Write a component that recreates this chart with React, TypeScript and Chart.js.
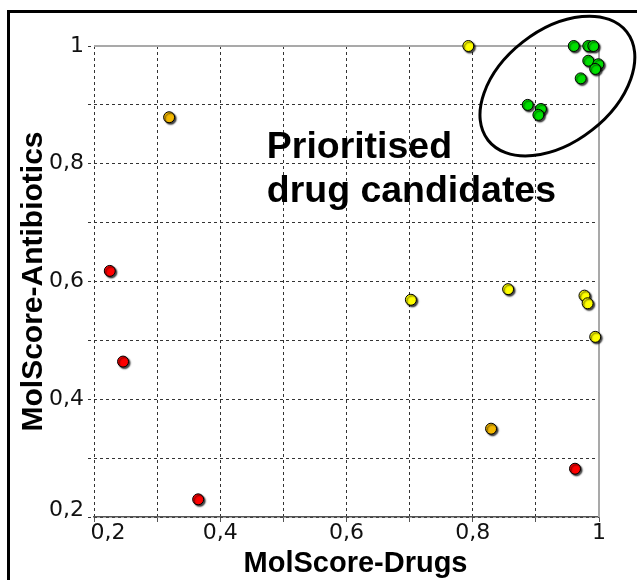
import React, { useEffect, useRef } from 'react';
import { Chart, registerables } from 'chart.js';

Chart.register(...registerables);

// ---- data ----
const redX = [0.225, 0.246, 0.365, 0.962];
const redY = [0.618, 0.464, 0.23, 0.282];

const orangeX = [0.319, 0.829];
const orangeY = [0.879, 0.35];

const yellowX = [0.793, 0.702, 0.856, 0.977, 0.982, 0.994];
const yellowY = [1.0, 0.569, 0.587, 0.576, 0.563, 0.506];

const greenX = [0.96, 0.983, 0.991, 0.983, 0.999, 0.994, 0.971, 0.887, 0.908, 0.904];
const greenY = [1.0, 1.0, 1.0, 0.975, 0.969, 0.961, 0.945, 0.9, 0.893, 0.883];

const axisMin = 0.2;
const axisMax = 1.0;
const axisStep = 0.1;

const X_TITLE = 'MolScore-Drugs';
const Y_TITLE = 'MolScore-Antibiotics';
const NOTE_LINES = ['Prioritised', 'drug candidates'];
// annotation anchor (data units)
const NOTE_AT = { x: 0.4738, y: 0.8106 };
const ELLIPSE_AT = { x: 0.9341, y: 0.932 };

const toPoints = (xs: number[], ys: number[]) => xs.map((x, i) => ({ x, y: ys[i] }));

const labelFor = (value: number) => {
  const k = Math.round(value * 10);
  if (k % 2 !== 0) return '';
  return (k / 10).toString().replace('.', ',');
};

const isOne = (v: number) => Math.abs(v - 1) < 1e-6;

const decorPlugin = {
  id: 'decor',
  beforeDatasetsDraw(chart: any) {
    const { ctx, chartArea: a } = chart;
    ctx.save();
    ctx.strokeStyle = '#a9a9a9';
    ctx.lineWidth = 2;
    ctx.beginPath();
    ctx.moveTo(a.left, a.top);
    ctx.lineTo(a.right, a.top);
    ctx.lineTo(a.right, a.bottom);
    ctx.stroke();
    ctx.restore();
    ctx.save();
    ctx.shadowColor = 'rgba(0,0,0,0.75)';
    ctx.shadowOffsetX = 1.5;
    ctx.shadowOffsetY = 1.5;
    ctx.shadowBlur = 1.5;
  },
  afterDatasetsDraw(chart: any) {
    chart.ctx.restore();
  },
  afterDraw(chart: any) {
    const { ctx, chartArea: a, scales } = chart;
    const xs = scales.x;
    const ys = scales.y;
    ctx.save();
    ctx.fillStyle = '#000';
    // ellipse around prioritised candidates
    ctx.strokeStyle = '#000';
    ctx.lineWidth = 3;
    ctx.beginPath();
    ctx.ellipse(
      xs.getPixelForValue(ELLIPSE_AT.x),
      ys.getPixelForValue(ELLIPSE_AT.y),
      88,
      56,
      (-38 * Math.PI) / 180,
      0,
      Math.PI * 2
    );
    ctx.stroke();

    // note text
    ctx.font = 'bold 36px "Liberation Sans", Arial, sans-serif';
    ctx.textAlign = 'left';
    ctx.textBaseline = 'alphabetic';
    const nx = xs.getPixelForValue(NOTE_AT.x);
    const ny = ys.getPixelForValue(NOTE_AT.y);
    NOTE_LINES.forEach((line, i) => {
      ctx.save();
      ctx.translate(nx, ny + i * 44);
      ctx.scale(1.04, 1);
      ctx.fillText(line, 0, 0);
      ctx.restore();
    });

    // axis titles
    ctx.font = 'bold 29px "Liberation Sans", Arial, sans-serif';
    ctx.textAlign = 'center';
    ctx.fillText(X_TITLE, (a.left + a.right) / 2 + 9, a.bottom + 54.5);

    ctx.save();
    ctx.font = 'bold 30px "Liberation Sans", Arial, sans-serif';
    ctx.translate(41.7, (a.top + a.bottom) / 2);
    ctx.rotate(-Math.PI / 2);
    ctx.fillText(Y_TITLE, 0, 0);
    ctx.restore();

    ctx.restore();
  },
};

const pointStyle = (color: string) => ({
  backgroundColor: color,
  borderColor: '#000',
  borderWidth: 1,
  pointRadius: 5.5,
  pointHoverRadius: 5.5,
  clip: false as const,
});

export default function App() {
  const ref = useRef<HTMLCanvasElement | null>(null);

  useEffect(() => {
    if (!ref.current) return;
    const chart = new Chart(ref.current, {
      type: 'scatter',
      data: {
        datasets: [
          { label: 'red', data: toPoints(redX, redY), ...pointStyle('#ff0000') },
          { label: 'orange', data: toPoints(orangeX, orangeY), ...pointStyle('#f4b800') },
          { label: 'yellow', data: toPoints(yellowX, yellowY), ...pointStyle('#ffff00') },
          { label: 'green', data: toPoints(greenX, greenY), ...pointStyle('#00e000') },
        ],
      },
      options: {
        responsive: false,
        animation: false,
        devicePixelRatio: 1,
        layout: { padding: { top: 46, right: 38, left: 0, bottom: 0 } },
        plugins: {
          legend: { display: false },
          tooltip: { enabled: false },
          title: { display: false },
        },
        scales: {
          x: {
            type: 'linear',
            min: axisMin,
            max: axisMax,
            afterFit: (s: any) => {
              s.height = 63;
            },
            border: { display: true, color: '#555', width: 1.5, dash: [3, 3] },
            grid: {
              color: (c: any) => (c.tick && isOne(c.tick.value) ? 'rgba(0,0,0,0)' : '#333'),
              lineWidth: 1,
              tickColor: '#555',
              tickLength: 5,
              drawTicks: true,
            },
            ticks: {
              stepSize: axisStep,
              autoSkip: false,
              maxRotation: 0,
              padding: 0,
              color: '#111',
              font: { family: '"DejaVu Sans"', size: 22, lineHeight: 1 },
              callback: (v: any) => {
                const s = labelFor(Number(v));
                return Math.abs(Number(v) - axisMin) < 1e-6 ? '    ' + s : s;
              },
            },
          },
          y: {
            type: 'linear',
            min: axisMin,
            max: axisMax,
            afterFit: (s: any) => {
              s.width = 94;
            },
            border: { display: false, dash: [3, 3] },
            grid: {
              color: (c: any) => (c.tick && isOne(c.tick.value) ? 'rgba(0,0,0,0)' : '#333'),
              lineWidth: 1,
              tickColor: '#333',
              tickLength: 6,
              tickBorderDash: [3, 3],
            },
            ticks: {
              stepSize: axisStep,
              autoSkip: false,
              padding: 4,
              color: '#111',
              font: { family: '"DejaVu Sans"', size: 22, lineHeight: '13px' },
              callback: (v: any) => {
                const s = labelFor(Number(v));
                return Math.abs(Number(v) - axisMin) < 1e-6 ? [s, ''] : s;
              },
            },
          },
        },
      },
      plugins: [decorPlugin],
    } as any);
    return () => chart.destroy();
  }, []);

  return (
    <div style={{ position: 'fixed', left: 0, top: 0, width: 637, height: 580, background: '#fff' }}>
      <div
        style={{
          position: 'absolute',
          left: 7,
          top: 10,
          width: 630,
          height: 570,
          boxSizing: 'border-box',
          borderLeft: '3px solid #000',
          borderTop: '3px solid #000',
        }}
      />
      <canvas ref={ref} width={637} height={580} style={{ position: 'absolute', left: 0, top: 0 }} />
    </div>
  );
}
